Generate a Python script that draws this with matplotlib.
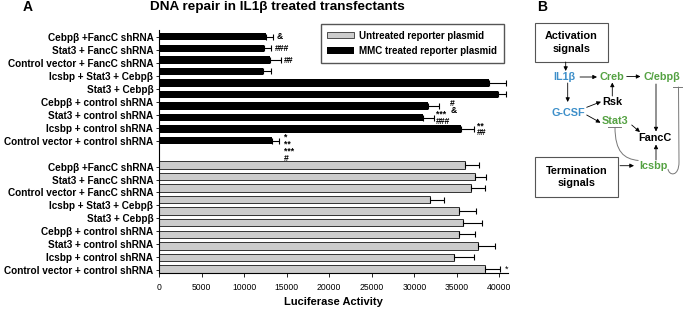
import matplotlib
matplotlib.use("Agg")
import matplotlib.pyplot as plt
import numpy as np
from matplotlib.patches import FancyArrowPatch, Rectangle, PathPatch, Patch
from matplotlib.path import Path

plt.rcParams["font.family"] = ["Liberation Sans", "DejaVu Sans"]

row_labels = ["Cebpβ +FancC shRNA", "Stat3 + FancC shRNA", "Control vector + FancC shRNA",
              "Icsbp + Stat3 + Cebpβ", "Stat3 + Cebpβ", "Cebpβ + control shRNA",
              "Stat3 + control shRNA", "Icsbp + control shRNA", "Control vector + control shRNA"]

# MMC treated reporter plasmid (black), top group, 10 bars
mmc_vals = [12600, 12300, 13000, 12200, 38750, 39800, 31550, 31050, 35500, 13300]
mmc_err = [850, 900, 1370, 980, 2030, 1020, 1370, 1250, 1490, 740]
mmc_marks = ["&", "###", "##", "", "", "", "#\n&", "***\n###", "**\n##", "*\n**\n***\n#"]

# untreated reporter plasmid (gray), bottom group, 10 bars
untreated_vals = [35900, 37150, 36700, 31800, 35250, 35700, 35300, 37450, 34600, 38350]
untreated_err = [1640, 1290, 1640, 1670, 2030, 2190, 1870, 2030, 2370, 1750]
untreated_marks = ["", "", "", "", "", "", "", "", "", "*"]

W, H = 683, 313
fig = plt.figure(figsize=(W / 100, H / 100), dpi=100)
ax = fig.add_axes([159 / W, 1 - 273 / H, (508 - 159) / W, (273 - 30) / H])

y_mmc = np.arange(len(mmc_vals))
y_unt = np.arange(len(untreated_vals)) + 11.1

ekw = dict(elinewidth=0.8, capthick=0.8, ecolor="black")
ax.barh(y_mmc, mmc_vals, height=0.65, color="black",
        xerr=[np.zeros(len(mmc_err)), mmc_err], capsize=2.5, error_kw=ekw)
ax.barh(y_unt, untreated_vals, height=0.65, color="#cccccc", edgecolor="#333333", linewidth=0.7,
        xerr=[np.zeros(len(untreated_err)), untreated_err], capsize=2.5, error_kw=ekw)

mark_dx = [3, 3, 3, 0, 0, 0, 11, 2, 3, 5]
mark_dy = [0, 0, -1, 0, 0, 0, -1, 0, 0, -7]
for i, m in enumerate(mmc_marks):
    if m:
        ax.annotate(m, (mmc_vals[i] + mmc_err[i], y_mmc[i]), xytext=(mark_dx[i], mark_dy[i]),
                    textcoords="offset pixels", ha="left", va="center", fontsize=6.2,
                    fontweight="bold", linespacing=0.72)
for i, m in enumerate(untreated_marks):
    if m:
        ax.annotate(m, (untreated_vals[i] + untreated_err[i], y_unt[i]), xytext=(5, 0),
                    textcoords="offset pixels", ha="left", va="center", fontsize=6.5)

ax.set_ylim(20.45, -0.58)
ax.set_xlim(0, 41000)
ax.set_xticks(range(0, 40001, 5000))
ax.set_xticklabels([str(t) for t in range(0, 40001, 5000)], fontsize=6.2)
ax.set_yticks(list(np.linspace(0.05, 9, 9)) + list(np.linspace(11.25, 20.15, 9)))
ax.set_yticklabels(row_labels + row_labels, fontsize=7.2, fontweight="bold")
ax.tick_params(axis="y", length=2, width=0.6, pad=2)
ax.tick_params(axis="x", length=3, width=0.6, pad=4)
for s in ["top", "right"]:
    ax.spines[s].set_visible(False)
for s in ["left", "bottom"]:
    ax.spines[s].set_linewidth(0.8)
ax.set_xlabel("Luciferase Activity", fontsize=8, fontweight="bold", labelpad=4)

fig.legend(handles=[Patch(facecolor="#cccccc", edgecolor="#333333", linewidth=0.6),
                    Patch(facecolor="black")],
           labels=["Untreated reporter plasmid", "MMC treated reporter plasmid"],
           loc="upper right", bbox_to_anchor=(509 / W, 1 - 19 / H), fancybox=False,
           edgecolor="#555555", framealpha=1, prop={"size": 7, "weight": "bold"},
           handlelength=2.7, handleheight=0.6, borderpad=0.7, labelspacing=0.55,
           handletextpad=0.6)

fig.text(28 / W, 1 - 7 / H, "A", fontsize=10, fontweight="bold", ha="center", va="center")
fig.text(277 / W, 1 - 7 / H, "DNA repair in IL1β treated transfectants", fontsize=9.7,
         fontweight="bold", ha="center", va="center")

# panel B diagram
def fp(x, y):
    return (x / W, 1 - y / H)

blue = "#3d8fc9"
green = "#55a243"
fig.text(*fp(542, 7), "B", fontsize=10, fontweight="bold", ha="center", va="center")

for x0, y0, x1, y1, txt in [(535, 23, 608, 62, "Activation\nsignals"),
                            (535, 157, 618, 197, "Termination\nsignals")]:
    fig.add_artist(Rectangle(fp(x0, y1), (x1 - x0) / W, (y1 - y0) / H, transform=fig.transFigure,
                             fill=False, edgecolor="#555555", linewidth=0.8))
    fig.text(*fp((x0 + x1) / 2, (y0 + y1) / 2), txt, fontsize=7.8, fontweight="bold",
             ha="center", va="center", linespacing=1.3)

nodes = [("IL1β", 564.5, 77, blue), ("Creb", 611.7, 76.5, green), ("C/ebpβ", 661.7, 76.5, green),
         ("Rsk", 612, 102, "black"), ("G-CSF", 568, 112.7, blue), ("Stat3", 615, 120.7, green),
         ("FancC", 655.3, 138.3, "black"), ("Icsbp", 653.7, 166, green)]
for txt, x, y, c in nodes:
    fig.text(*fp(x, y), txt, fontsize=7.8, fontweight="bold", color=c, ha="center", va="center")

arrows = [(565.7, 62, 565.7, 71), (580, 77, 597, 77), (626.7, 76.5, 640.5, 76.5),
          (567.7, 83, 567.7, 102), (612.3, 96, 612.3, 82.5), (586.7, 107.3, 601, 101.7),
          (586.7, 115, 600.5, 122.7), (631.7, 125, 640, 132), (656, 84, 656, 131.5),
          (656, 160, 656, 144.5), (620, 165.7, 634, 165.7)]
for x0, y0, x1, y1 in arrows:
    fig.add_artist(FancyArrowPatch(fp(x0, y0), fp(x1, y1), transform=fig.transFigure,
                                   arrowstyle="-|>", mutation_scale=6, linewidth=0.6,
                                   color="black", shrinkA=0, shrinkB=0))

lc = "#777777"
fig.add_artist(plt.Line2D([608 / W, 621 / W], [1 - 126.7 / H] * 2, transform=fig.transFigure,
                          color=lc, linewidth=0.7))
fig.add_artist(PathPatch(Path([fp(615, 127), fp(615, 152), fp(624, 159), fp(638.5, 160.5)],
                              [Path.MOVETO, Path.CURVE4, Path.CURVE4, Path.CURVE4]),
                         transform=fig.transFigure, fill=False, edgecolor=lc, linewidth=0.7))
fig.add_artist(plt.Line2D([673 / W, 682 / W], [1 - 86.7 / H] * 2, transform=fig.transFigure,
                          color=lc, linewidth=0.7))
fig.add_artist(PathPatch(Path([fp(678.5, 86.7), fp(679, 162), fp(679, 177), fp(669, 176),
                               fp(668, 169)],
                              [Path.MOVETO, Path.LINETO, Path.CURVE4, Path.CURVE4, Path.CURVE4]),
                         transform=fig.transFigure, fill=False, edgecolor=lc, linewidth=0.7))

fig.savefig("out.png", dpi=100)
